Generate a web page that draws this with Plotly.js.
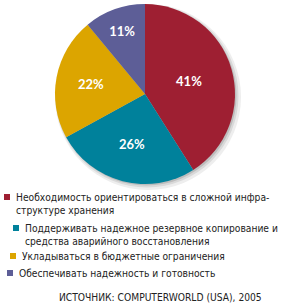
<!DOCTYPE html>
<html><head><meta charset="utf-8">
<script src="https://cdn.plot.ly/plotly-3.0.1.min.js"></script>
<style>html,body{margin:0;padding:0;background:#fff}</style>
</head><body><div id="chart" style="width:282px;height:304px"></div>
<script>
const labels = [
  "Необходимость ориентироваться в сложной инфра-<br>структуре хранения",
  "Поддерживать надежное резервное копирование и<br>средства аварийного восстановления",
  "Укладываться в бюджетные ограничения",
  "Обеспечивать надежность и готовность"
];
const values = [41, 26, 22, 11];
const colors = ["#9E1F32", "#00819B", "#DCA500", "#5D5E97"];
const sourceText = "ИСТОЧНИК: COMPUTERWORLD (USA), 2005";

const W = 282, H = 304;
const squareX = [4, 13, 10, 7];
const firstLineY = [197, 228, 256, 273];
const lineGap = 13;
const legendFont = {family: "DejaVu Sans Condensed, sans-serif", size: 10.2, color: "#222"};

const annotations = [];
const shapes = [];
labels.forEach((l, i) => {
  const x0 = squareX[i], yc = firstLineY[i];
  shapes.push({type: "rect", xref: "paper", yref: "paper",
    x0: x0 / W, x1: (x0 + 6) / W, y0: 1 - (yc + 3) / H, y1: 1 - (yc - 3) / H,
    fillcolor: colors[i], line: {width: 0}});
  l.split("<br>").forEach((line, j) => {
    annotations.push({
      xref: "paper", yref: "paper",
      x: (x0 + 10) / W, y: 1 - (yc + j * lineGap) / H,
      xanchor: "left", yanchor: "middle", align: "left",
      showarrow: false, text: line, font: legendFont
    });
  });
});
annotations.push({
  xref: "paper", yref: "paper", x: 264 / W, y: 1 - 297 / H,
  xanchor: "right", yanchor: "middle", showarrow: false, text: sourceText,
  font: legendFont
});

// pie geometry (pixels): center and radius
const cx = 145, cy = 94, r = 90;
function dom(dx, dy, dr) {
  return {x: [(cx + dx - r - dr) / W, (cx + dx + r + dr) / W],
          y: [1 - (cy + dy + r + dr) / H, 1 - (cy + dy - r - dr) / H]};
}
function shadow(dx, dy, dr, col) {
  return {type: "pie", values: [1], labels: ["shadow"], sort: false,
    marker: {colors: [col], line: {width: 0}}, textinfo: "none",
    hoverinfo: "none", domain: dom(dx, dy, dr)};
}

Plotly.newPlot("chart", [
  shadow(3, 3, 3, "#eeeeee"),
  shadow(2, 2, 1.5, "#d9d9d9"),
  shadow(1.5, 1.5, 0, "#bdbdbd"),
  {
  type: "pie",
  values: values,
  labels: labels,
  sort: false,
  direction: "clockwise",
  rotation: 0,
  marker: {colors: colors, line: {width: 0}},
  texttemplate: "<b>%{value}%</b>",
  textinfo: "text",
  textposition: "inside",
  insidetextorientation: "horizontal",
  textfont: {family: "Lato, Open Sans, sans-serif", size: 13, color: "#fff"},
  hoverinfo: "none",
  domain: dom(0, 0, 0)
}], {
  width: W, height: H,
  margin: {l: 0, r: 0, t: 0, b: 0},
  showlegend: false,
  paper_bgcolor: "#fff",
  annotations: annotations,
  shapes: shapes
}, {displayModeBar: false, staticPlot: true});
</script></body></html>
